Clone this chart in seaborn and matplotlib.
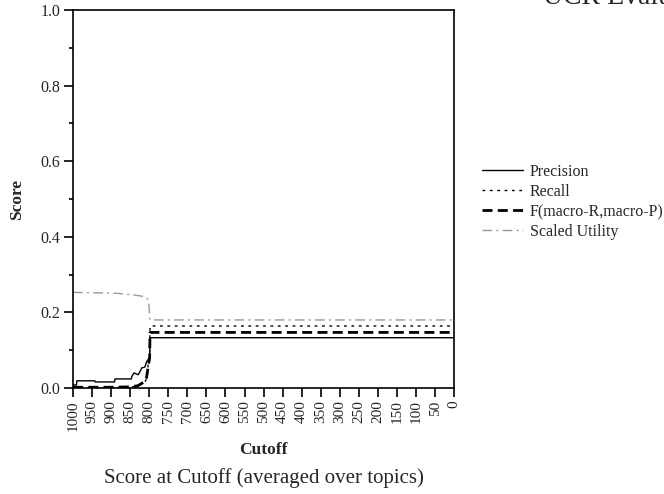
import matplotlib
matplotlib.use("Agg")
import matplotlib.pyplot as plt
import seaborn as sns
import numpy as np
import pandas as pd
from matplotlib.ticker import MultipleLocator

# ---- data ----
prec_cut = [1000, 991, 990, 943, 942, 891, 890, 847, 846, 840, 836, 829, 822, 820, 812, 810, 807, 803, 799, 798, 0]
prec_val = [0.008, 0.008, 0.019, 0.019, 0.016, 0.016, 0.024, 0.024, 0.030, 0.040, 0.038, 0.035, 0.048, 0.053, 0.055, 0.060, 0.070, 0.075, 0.080, 0.133, 0.133]

rec_cut = [1000, 900, 850, 830, 820, 812, 807, 803, 799, 798, 0]
rec_val = [0.001, 0.001, 0.002, 0.005, 0.010, 0.014, 0.025, 0.060, 0.090, 0.164, 0.164]

f_cut = [1000, 900, 850, 830, 820, 812, 807, 803, 799, 798, 0]
f_val = [0.002, 0.002, 0.003, 0.006, 0.012, 0.016, 0.028, 0.055, 0.080, 0.147, 0.147]

util_cut = [1000, 950, 900, 880, 860, 840, 820, 810, 804, 801, 799, 798, 0]
util_val = [0.253, 0.252, 0.251, 0.250, 0.248, 0.246, 0.243, 0.240, 0.236, 0.220, 0.190, 0.180, 0.180]

series_names = ["Precision", "Recall", "F(macro-R,macro-P)", "Scaled Utility"]
x_ticks = list(range(1000, -1, -50))

sns.set_style("ticks")
plt.rcParams['font.family'] = ['Liberation Serif', 'DejaVu Serif']
plt.rcParams['axes.linewidth'] = 1.2

fig = plt.figure(figsize=(6.64, 4.94), dpi=100)
ax = fig.add_axes([0.110, 0.2146, 0.574, 0.7652])

styles = [
    dict(color="black", linestyle="-", linewidth=1.0),
    dict(color="black", linestyle=(0, (2.0, 3.3)), linewidth=1.0),
    dict(color="black", linestyle=(0, (3.6, 1.9)), linewidth=2.0),
    dict(color="#999999", linestyle=(0, (7, 3, 1.5, 3)), linewidth=1.0),
]
data = [(prec_cut, prec_val), (rec_cut, rec_val), (f_cut, f_val), (util_cut, util_val)]

for name, (xc, yv), st in zip(series_names, data, styles):
    df = pd.DataFrame({"Cutoff": xc, "Score": yv})
    sns.lineplot(data=df, x="Cutoff", y="Score", ax=ax, sort=False, estimator=None,
                 label=name, **st)

ax.set_xlim(1000, 0)
ax.set_ylim(0, 1.0)
ax.set_xticks(x_ticks)
ax.set_xticklabels([str(t) for t in x_ticks], rotation=90, fontsize=11)
ax.yaxis.set_major_locator(MultipleLocator(0.2))
ax.yaxis.set_minor_locator(MultipleLocator(0.1))
ax.set_yticklabels([f"{v:.1f}" for v in ax.get_yticks()], fontsize=11.5)
ax.tick_params(axis='both', which='major', direction='out', length=6.5, width=1.2, color='black', pad=2.5)
ax.tick_params(axis='y', which='minor', direction='out', length=3, width=1.2, color='black')
for s in ax.spines.values():
    s.set_visible(True)
    s.set_color("black")

ax.set_xlabel("Cutoff", fontsize=12.5, fontweight="bold", labelpad=8)
ax.set_ylabel("Score", fontsize=12.5, fontweight="bold", labelpad=11)

ax.get_legend().remove()
handles, labels = ax.get_legend_handles_labels()
fig.legend(handles, labels, loc="upper left", bbox_to_anchor=(0.7255, 0.668),
           frameon=False, fontsize=11.5, handlelength=2.58, handletextpad=0.44,
           labelspacing=0.25, borderaxespad=0, borderpad=0)

fig.text(0.397, 0.022, "Score at Cutoff (averaged over topics)", ha="center", va="baseline", fontsize=15)
fig.text(0.818, 0.991, "UCR Evaluation", ha="left", va="baseline", fontsize=20)

fig.savefig("out.png", dpi=100)
